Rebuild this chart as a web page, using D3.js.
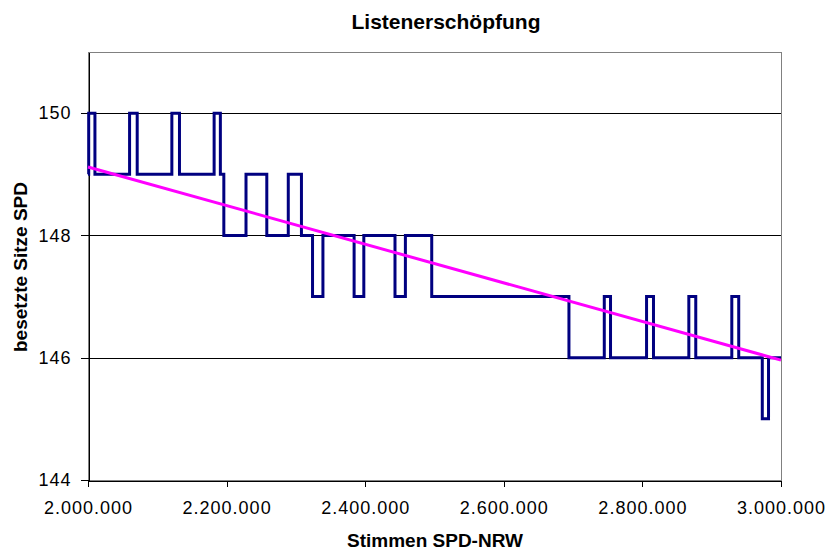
<!DOCTYPE html>
<html>
<head>
<meta charset="utf-8">
<script src="https://cdn.jsdelivr.net/npm/d3@7"></script>
<style>
    body { margin: 0; background: #fff; }
    svg { display: block; font-family: "Liberation Sans", Arial, sans-serif; }
</style>
</head>
<body>
<svg id="chart" width="825" height="550"></svg>
<script>
// step data: seats held from each vote count onward
const votes = [2000000, 2001000, 2010000, 2060000, 2071000, 2121000, 2132000, 2182000, 2191000, 2196000,
    2228000, 2258000, 2289000, 2308000, 2324000, 2339000, 2384000, 2398000, 2443000, 2458000,
    2496000, 2694000, 2745000, 2754000, 2806000, 2816000, 2867000, 2877000, 2929000, 2939000,
    2973000, 2982000, 3000000];
const seats = [149, 150, 149, 150, 149, 150, 149, 150, 149, 148,
    149, 148, 149, 148, 147, 148, 147, 148, 147, 148,
    147, 146, 147, 146, 147, 146, 147, 146, 147, 146,
    145, 146, 146];

// linear trend endpoints
const trendVotes = [2000000, 3000000];
const trendSeats = [149.12, 145.96];

const xTicks = [2000000, 2200000, 2400000, 2600000, 2800000, 3000000];
const yTicks = [144, 146, 148, 150];

const svg = d3.select('#chart');
const plotL = 88, plotR = 781, plotT = 52, plotB = 480;

const x = d3.scaleLinear().domain([2000000, 3000000]).range([plotL, plotR]);
const y = d3.scaleLinear().domain([144, 151]).range([plotB, plotT]);

const de = d3.formatLocale({ decimal: ',', thousands: '.', grouping: [3], currency: ['', ' €'] });
const fmt = de.format(',d');

// plot frame (gray top/right)
svg.append('rect')
    .attr('x', plotL + 0.5).attr('y', plotT + 0.5)
    .attr('width', plotR - plotL).attr('height', plotB - plotT)
    .attr('fill', 'none')
    .attr('stroke', '#808080')
    .attr('stroke-width', 1)
    .attr('shape-rendering', 'crispEdges');

// gridlines
svg.append('g').selectAll('line')
    .data(yTicks.filter(d => d > 144))
    .enter().append('line')
    .attr('x1', plotL).attr('x2', plotR)
    .attr('y1', d => Math.round(y(d)) + 0.5).attr('y2', d => Math.round(y(d)) + 0.5)
    .attr('stroke', '#000')
    .attr('shape-rendering', 'crispEdges');

// axes
const xAxis = svg.append('g')
    .attr('transform', `translate(0,${plotB + 0.5})`)
    .call(d3.axisBottom(x).tickValues(xTicks).tickFormat(fmt).tickSizeInner(6).tickSizeOuter(0));
const yAxis = svg.append('g')
    .attr('transform', `translate(${plotL + 0.5},0)`)
    .call(d3.axisLeft(y).tickValues(yTicks).tickFormat(d3.format('d')).tickSizeInner(8).tickSizeOuter(0).tickPadding(9));

[xAxis, yAxis].forEach(g => {
    g.select('.domain').attr('stroke', '#000').attr('shape-rendering', 'crispEdges');
    g.selectAll('.tick line').attr('stroke', '#000').attr('shape-rendering', 'crispEdges');
    g.selectAll('text')
        .attr('font-family', '"Liberation Sans", Arial, sans-serif')
        .attr('font-size', '18px')
        .attr('letter-spacing', '1px')
        .attr('fill', '#000');
});
xAxis.selectAll('text').attr('y', 33).attr('dy', 0);

// step line
const pts = votes.map((v, i) => [v, seats[i]]);
svg.append('path')
    .datum(pts)
    .attr('d', d3.line().x(d => x(d[0])).y(d => y(d[1])).curve(d3.curveStepAfter))
    .attr('fill', 'none')
    .attr('stroke', '#000080')
    .attr('stroke-width', 3)
    .attr('stroke-linejoin', 'miter');

// trend line
svg.append('path')
    .datum(trendVotes.map((v, i) => [v, trendSeats[i]]))
    .attr('d', d3.line().x(d => x(d[0])).y(d => y(d[1])))
    .attr('fill', 'none')
    .attr('stroke', '#ff00ff')
    .attr('stroke-width', 3);

// titles
svg.append('text')
    .attr('x', 446).attr('y', 29)
    .attr('text-anchor', 'middle')
    .attr('font-size', '21px').attr('font-weight', 'bold')
    .text('Listenerschöpfung');

svg.append('text')
    .attr('x', 435).attr('y', 547)
    .attr('text-anchor', 'middle')
    .attr('font-size', '19px').attr('font-weight', 'bold')
    .text('Stimmen SPD-NRW');

svg.append('text')
    .attr('transform', 'translate(27,267) rotate(-90)')
    .attr('text-anchor', 'middle')
    .attr('font-size', '19px').attr('font-weight', 'bold')
    .text('besetzte Sitze SPD');
</script>
</body>
</html>
